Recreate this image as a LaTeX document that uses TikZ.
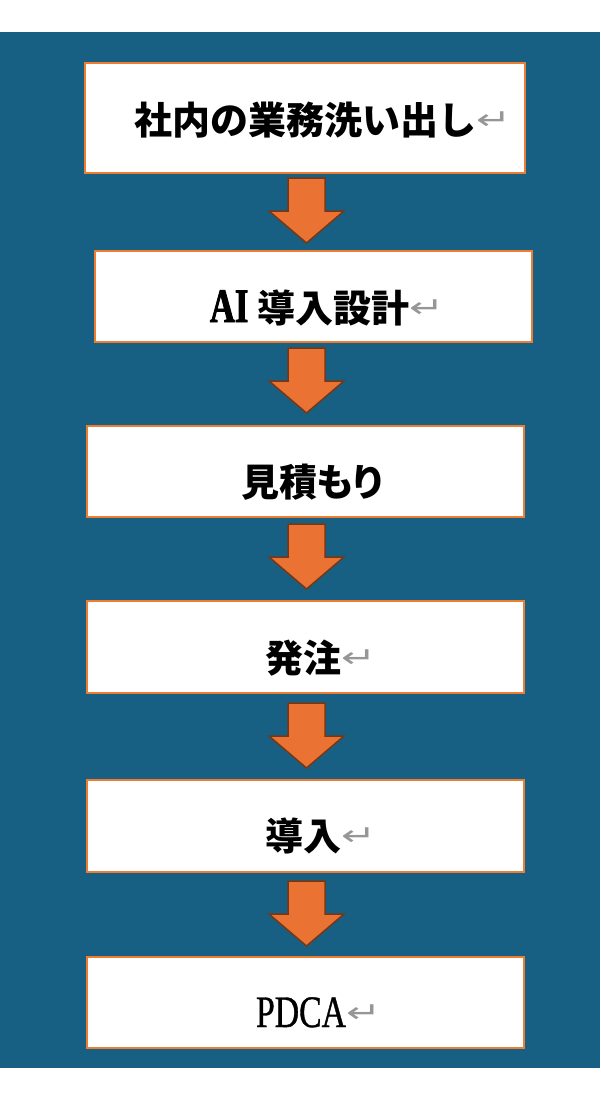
\documentclass[tikz,border=0pt]{standalone}
\usepackage{graphicx}
\usepackage{fontspec}
\newfontfamily\jpfont{Noto Sans CJK JP}
\newfontfamily\latfont{Liberation Serif}[FakeStretch=0.75,FakeBold=0.8]
\newfontfamily\latbfont{Liberation Serif Bold}[FakeStretch=0.72,FakeBold=1.8]
\newfontfamily\symfont{DejaVu Sans}
\definecolor{bgblue}{RGB}{23,96,131}
\definecolor{boxorange}{RGB}{237,125,49}
\definecolor{arroworange}{RGB}{234,115,52}
\definecolor{arrowbrown}{RGB}{120,55,20}
\definecolor{markgray}{RGB}{150,150,150}
\newcommand\jptext[1]{{\jpfont\bfseries\fontsize{38}{40}\selectfont #1}}
\newcommand\retmark{{\color{markgray}\symfont\fontsize{27}{28}\selectfont\raisebox{5pt}{\scalebox{1.55}[1.05]{↵}}}}
\newcommand\flowarrow[1]{\draw[arrowstyle] (288,#1) -- (325,#1) -- (325,#1+33) -- (344,#1+33) -- (306.5,#1+65) -- (269,#1+33) -- (288,#1+33) -- cycle;}
\begin{document}
\begin{tikzpicture}[x=1pt,y=-1pt,
  stepbox/.style={draw=boxorange,fill=white,line width=2pt,inner sep=0pt,outer sep=0pt,minimum width=437pt,minimum height=91pt},
  steptext/.style={anchor=base west,inner sep=0pt,outer sep=0pt,text=black},
  arrowstyle/.style={fill=arroworange,draw=arrowbrown,line width=1.5pt,line join=miter}]
\useasboundingbox (0,0) rectangle (600,1100);
\fill[white] (0,0) rectangle (600,1100);
\fill[bgblue] (0,32) rectangle (600,1068);
% boxes
\node[stepbox,minimum width=440pt,minimum height=110pt] (b1) at (305,118) {};
\node[stepbox] (b2) at (313.5,296.5) {};
\node[stepbox] (b3) at (305.5,471.5) {};
\node[stepbox,minimum height=92pt] (b4) at (305.5,647) {};
\node[stepbox,minimum height=92pt] (b5) at (305.5,826) {};
\node[stepbox] (b6) at (305.5,1002.5) {};
% texts
\node[steptext] (t1) at (134,134) {\jptext{社内の業務洗い出し}\retmark};
\node[steptext] (t2) at (210,322) {{\latbfont\fontsize{48}{50}\selectfont AI }\jptext{導入設計}\retmark};
\node[steptext] (t3) at (241,496) {\jptext{\addfontfeatures{RawFeature=+palt}見積もり}};
\node[steptext] (t4) at (265,672) {\jptext{発注}\retmark};
\node[steptext] (t5) at (265,850) {\jptext{導入}\retmark};
\node[steptext] (t6) at (256,1027) {{\latfont\fontsize{45}{47}\selectfont PDCA}\retmark};
% arrows
\flowarrow{178}
\flowarrow{348}
\flowarrow{524}
\flowarrow{703}
\flowarrow{881}
\end{tikzpicture}
\end{document}
